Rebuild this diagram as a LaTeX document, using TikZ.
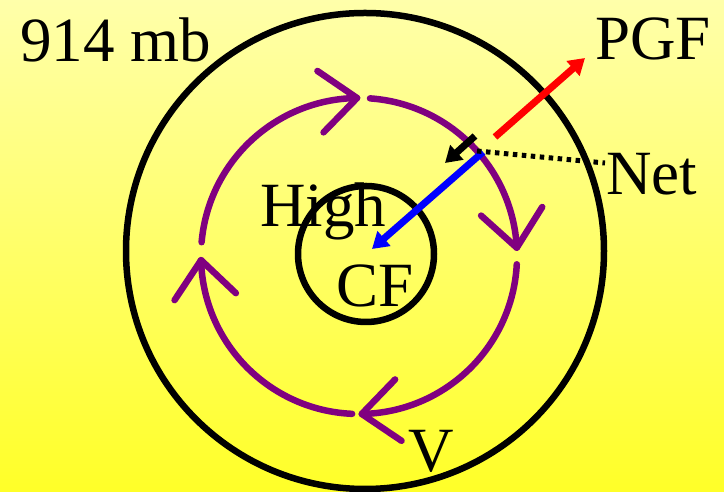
\documentclass[tikz,border=0pt]{standalone}
\usepackage{fontspec}
\setmainfont{Liberation Serif}
\usetikzlibrary{arrows.meta,calc}
\definecolor{bgtop}{RGB}{255,255,170}
\definecolor{bgbot}{RGB}{255,255,40}
\definecolor{purp}{RGB}{128,0,128}
\tikzset{
  ring/.style={draw=black,line width=6.5pt},
  flow/.style={draw=purp,line width=6.5pt,line cap=round,line join=round},
  vec/.style={line width=7pt,-{Triangle[length=16pt,width=19pt]}},
  lbl/.style={anchor=base west,inner sep=0pt,font=\fontsize{63}{74}\selectfont},
}
\begin{document}
\begin{tikzpicture}[x=1pt,y=1pt]
\useasboundingbox (0,0) rectangle (724,492);
\shade[top color=bgtop,bottom color=bgbot] (0,0) rectangle (724,492);
% centres
\coordinate (O) at (365,241);
\coordinate (I) at (366,238);
\coordinate (P) at (359,236);
% rings
\draw[ring] (O) ellipse[x radius=239pt,y radius=238pt];
\draw[ring] (I) circle[radius=68pt];
% purple circulation arcs
\draw[flow] (P) ++(86:158pt) arc[start angle=86,end angle=3,radius=158pt];
\draw[flow] (P) ++(-3:158pt) arc[start angle=-3,end angle=-89,radius=158pt];
\draw[flow] (P) ++(-92.5:158pt) arc[start angle=-92.5,end angle=-178.5,radius=158pt];
\draw[flow] (P) ++(175:158pt) arc[start angle=175,end angle=90.7,radius=158pt];
% chevron heads
\foreach \t/\n in {90.7/tA,3/tB,-89/tC,181.5/tD}{
  \coordinate (\n) at ($(P)+(\t:158pt)$);
  \draw[flow] (\n) ++(\t+55:48pt) -- (\n) -- ++(\t+135:48pt);
}
% force vectors
\coordinate (pgfS) at (495,355);
\coordinate (pgfE) at (585,434);
\coordinate (cfS) at (483,340);
\coordinate (cfE) at (372,243);
\coordinate (netS) at (475,356);
\coordinate (netE) at (445,329);
\coordinate (dotS) at (477,341);
\coordinate (dotE) at (605,329);
\draw[vec,red] (pgfS) -- (pgfE);
\draw[vec,blue] (cfS) -- (cfE);
\draw[vec,black] (netS) -- (netE);
\draw[line width=5pt,dash pattern=on 4.5pt off 4.5pt] (dotS) -- (dotE);
% labels
\node[lbl] (mb) at (20,430) {914 mb};
\node[lbl] (pgf) at (595,432) {PGF};
\node[lbl] (net) at (606,297) {Net};
\node[lbl] (high) at (260,265) {High};
\node[lbl] (cf) at (336,185) {CF};
\node[lbl] (v) at (408,20) {V};
\end{tikzpicture}
\end{document}
